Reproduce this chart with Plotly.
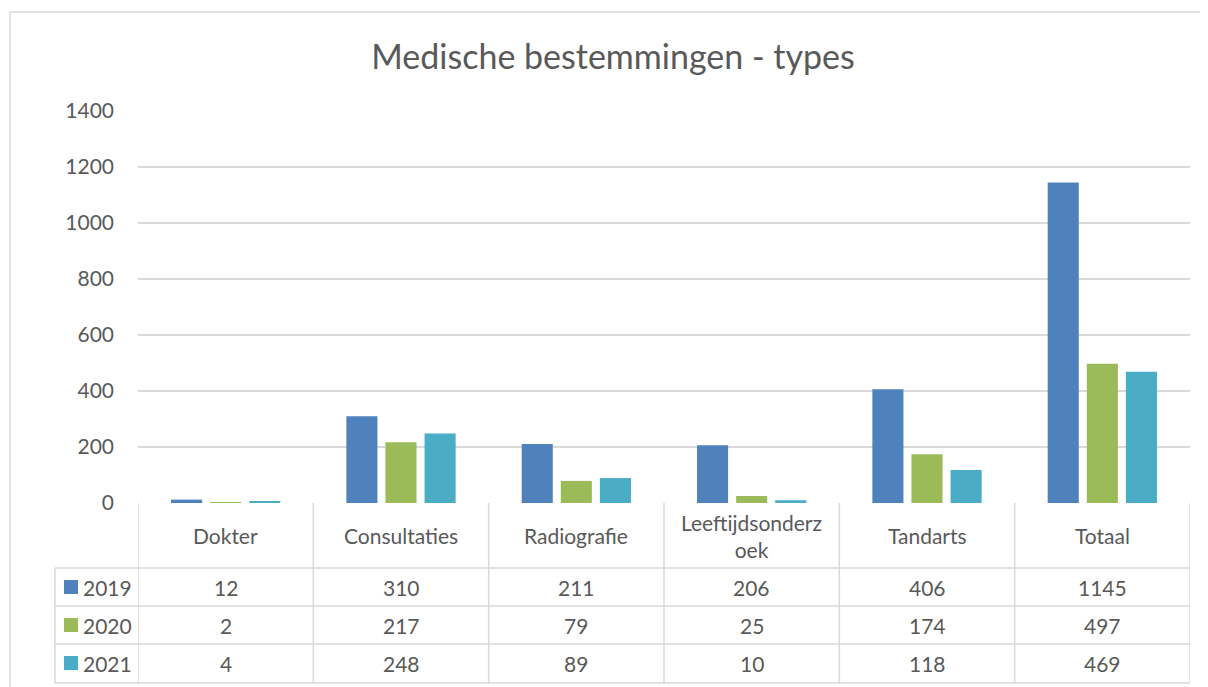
import plotly.graph_objects as go

categories = ["Dokter", "Consultaties", "Radiografie", "Leeftijdsonderzoek", "Tandarts", "Totaal"]
header_labels = ["Dokter", "Consultaties", "Radiografie", "Leeftijdsonderz<br>oek", "Tandarts", "Totaal"]
series_names = ["2019", "2020", "2021"]
values_2019 = [12, 310, 211, 206, 406, 1145]
values_2020 = [2, 217, 79, 25, 174, 497]
values_2021 = [4, 248, 89, 10, 118, 469]
y_ticks = [0, 200, 400, 600, 800, 1000, 1200, 1400]

series_values = [values_2019, values_2020, values_2021]
colors = ["#4F81BD", "#9BBB59", "#4BACC6"]
text_color = "#595959"
grid_color = "#D9D9D9"
FONT = "Lato, 'Open Sans', sans-serif"

OFF = 8  # page body margin
W, H = 1208 - OFF, 687 - OFF
# plot area in page pixels
PL, PR, PT, PB = 138, 1190, 111, 503
L = PL - OFF
T = PT - OFF
R = W - (PR - OFF)
B = H - (PB - OFF)
plot_w = PR - PL
plot_h = PB - PT

def px_x(px):
    return (px - PL) / plot_w

def px_y(py):
    return (PB - py) / plot_h

fig = go.Figure()
for name, vals, col in zip(series_names, series_values, colors):
    fig.add_trace(go.Bar(x=categories, y=vals, name=name, marker=dict(color=col, line=dict(width=0)),
                         showlegend=False))

shapes = []
annotations = []

# outer chart border: only top and left edges are visible in the frame
shapes.append(dict(type="line", xref="paper", yref="paper",
                   x0=px_x(10), x1=px_x(1208), y0=px_y(12), y1=px_y(12),
                   line=dict(color=grid_color, width=1.5), layer="below"))
shapes.append(dict(type="line", xref="paper", yref="paper",
                   x0=px_x(10), x1=px_x(10), y0=px_y(12), y1=px_y(690),
                   line=dict(color=grid_color, width=1.5), layer="below"))

row_top = 503
row_lines = [568, 606, 644, 683]
row_centers = [587, 625, 663]
left_px = 55

for ry in row_lines:
    shapes.append(dict(type="line", xref="paper", yref="paper",
                       x0=px_x(left_px), x1=1, y0=px_y(ry), y1=px_y(ry),
                       line=dict(color=grid_color, width=1.5)))
n = len(categories)
for i in range(n + 1):
    shapes.append(dict(type="line", xref="x", yref="paper",
                       x0=i - 0.5, x1=i - 0.5, y0=0, y1=px_y(683),
                       line=dict(color=grid_color, width=1.5)))
shapes.append(dict(type="line", xref="paper", yref="paper",
                   x0=px_x(left_px), x1=px_x(left_px), y0=px_y(568), y1=px_y(683),
                   line=dict(color=grid_color, width=1.5)))

TS = 21
for i, lab in enumerate(header_labels):
    annotations.append(dict(x=i, xref="x", y=px_y((row_top + 568) / 2), yref="paper",
                            text=lab, showarrow=False, xanchor="center", yanchor="middle",
                            font=dict(family=FONT, size=TS, color=text_color)))

for r, (name, vals, col) in enumerate(zip(series_names, series_values, colors)):
    cy = px_y(row_centers[r])
    for i, v in enumerate(vals):
        annotations.append(dict(x=i, xref="x", y=cy, yref="paper", text=str(v), showarrow=False,
                                xanchor="center", yanchor="middle",
                                font=dict(family=FONT, size=TS, color=text_color)))
    shapes.append(dict(type="rect", xref="paper", yref="paper",
                       x0=px_x(64), x1=px_x(78), y0=px_y(row_centers[r] + 7), y1=px_y(row_centers[r] - 7),
                       fillcolor=col, line=dict(width=0)))
    annotations.append(dict(x=px_x(81), xref="paper", y=cy, yref="paper", text=name, showarrow=False,
                            xanchor="left", yanchor="middle",
                            font=dict(family=FONT, size=TS, color=text_color)))

fig.update_layout(
    width=W, height=H,
    margin=dict(l=L, r=R, t=T, b=B, autoexpand=False),
    paper_bgcolor="white", plot_bgcolor="white",
    barmode="group", bargap=0.331, bargroupgap=0.205,
    title=dict(text="Medische bestemmingen - types", x=(613 - OFF) / W, xanchor="center",
               y=1 - (57 - OFF) / H, yanchor="middle", yref="container",
               font=dict(family=FONT, size=34, color=text_color)),
    font=dict(family=FONT, size=TS, color=text_color),
    shapes=shapes, annotations=annotations,
    showlegend=False,
)
fig.update_yaxes(range=[0, 1400], tickvals=y_ticks, showgrid=True, gridcolor=grid_color, gridwidth=1.5,
                 zeroline=False, showline=False, ticks="", ticklabelstandoff=23,
                 tickfont=dict(family=FONT, size=TS, color=text_color))
fig.update_xaxes(showticklabels=False, showgrid=False, zeroline=False, showline=False, ticks="",
                 range=[-0.5, n - 0.5])

fig.write_html("out.html")
